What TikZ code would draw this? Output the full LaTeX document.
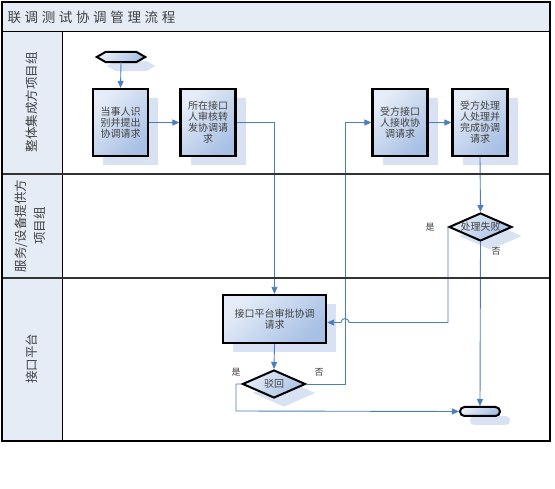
\documentclass[tikz,border=0pt]{standalone}
\usepackage{fontspec}
\setmainfont{Noto Sans CJK SC}
\newfontfamily\titlefont[LetterSpace=27]{Noto Sans CJK SC}
\usetikzlibrary{shapes.geometric,arrows.meta,shadows}
\definecolor{lanefill}{RGB}{229,236,246}
\definecolor{shadowc}{RGB}{216,226,242}
\definecolor{boxlight}{RGB}{230,237,248}
\definecolor{boxdark}{RGB}{168,192,228}
\definecolor{conn}{RGB}{74,126,193}
\definecolor{txt}{RGB}{64,64,64}
\tikzset{
  myshadow/.style={general shadow={fill=shadowc, shadow xshift=10pt, shadow yshift=-9pt}},
  gradfill/.style={top color=boxlight, bottom color=boxdark, shading angle=45},
  procbox/.style={draw=black, line width=2.3pt, gradfill, myshadow,
    minimum width=55pt, minimum height=67pt, inner sep=0pt, align=center,
    font=\fontsize{10}{11}\selectfont, text=txt},
  decision/.style={diamond, draw=black, line width=2pt, gradfill, myshadow,
    minimum width=63pt, minimum height=28pt, inner sep=0pt},
  dectext/.style={font=\fontsize{10}{10}\selectfont, text=txt},
  terminal/.style={draw=black, line width=2pt, gradfill, myshadow, rounded corners=4.5pt,
    minimum width=40pt, minimum height=9pt, inner sep=0pt},
  conn/.style={draw=conn, line width=0.9pt},
  arr/.style={conn, -{Triangle[length=7pt,width=6pt]}},
  lanetext/.style={rotate=90, align=center, text=txt, font=\fontsize{12.5}{19}\selectfont},
  yesno/.style={font=\fontsize{9}{9}\selectfont, text=txt},
  sep/.style={draw=black!80, line width=2pt}
}
\begin{document}
\begin{tikzpicture}[x=1pt,y=-1pt]
\useasboundingbox (0,0) rectangle (555,489);
% lanes background
\fill[white] (2,2) rectangle (550,441);
\fill[lanefill] (2,2) rectangle (550,32);
\fill[lanefill] (2,32) rectangle (62,441);
\node[anchor=west, font=\titlefont\fontsize{13.5}{14}\selectfont, text=txt] (title) at (4,17) {联调测试协调管理流程};
\node[lanetext] (lane1) at (31.5,102.5) {整体集成方项目组};
\node[lanetext] (lane2) at (30.5,226) {服务/设备提供方\\项目组};
\node[lanetext] (lane3) at (31.5,359) {接口平台};
% start hexagon
\node[minimum width=48pt, minimum height=10pt, inner sep=0pt] (start) at (121,57) {};
\fill[shadowc] ([shift={(10,9)}]start.west) -- ([shift={(19,9)}]start.north west) -- ([shift={(1,9)}]start.north east) -- ([shift={(10,9)}]start.east) -- ([shift={(1,9)}]start.south east) -- ([shift={(19,9)}]start.south west) -- cycle;
\draw[line width=2pt, gradfill] (start.west) -- ([xshift=9pt]start.north west) -- ([xshift=-9pt]start.north east) -- (start.east) -- ([xshift=-9pt]start.south east) -- ([xshift=9pt]start.south west) -- cycle;
% process boxes
\node[procbox] (b1) at (120.5,122.5) {当事人识\\别并提出\\协调请求};
\node[procbox] (b2) at (208,122.5) {所在接口\\人审核转\\发协调请\\求};
\node[procbox] (b3) at (400,122.5) {受方接口\\人接收协\\调请求};
\node[procbox] (b4) at (480,122.5) {受方处理\\人处理并\\完成协调\\请求};
\node[procbox, minimum width=103pt, minimum height=48pt] (b5) at (274.5,319) {接口平台审批协调\\请求};
% decisions
\node[decision, label={[dectext]center:处理失败}] (fail) at (480.5,227) {};
\node[decision, label={[dectext]center:驳回}] (rej) at (274,384) {};
% end
\node[terminal] (endn) at (480,411.5) {};
% yes / no labels
\node[yesno] (yes1) at (430,227) {是};
\node[yesno] (no1) at (496,251) {否};
\node[yesno] (yes2) at (236,372) {是};
\node[yesno] (no2) at (319,372) {否};
% helper coordinates
\coordinate (jtop) at (345,122.5);
\coordinate (hopR) at (349,322.5);
\coordinate (hopL) at (341,322.5);
\coordinate (j2) at (236,411);
% connectors
\draw[arr] (start.south) -- (b1.north);
\draw[arr] (b1.east) -- (b2.west);
\draw[arr] (b2.east) -| (b5.north);
\draw[arr] (b3.east) -- (b4.west);
\draw[arr] (b4.south) -- (fail.north);
\draw[arr] (rej.east) -| (jtop) -- (b3.west);
\draw[arr] (fail.west) |- (hopR) arc[start angle=0, end angle=-180, radius=4] -- (b5.east |- hopL);
\draw[arr] (fail.south) -- (endn.north);
\draw[arr] (b5.south) -- (rej.north);
\draw[arr] (rej.west) -| (j2) -- (endn.west);
% frame and lane lines
\draw[line width=1pt] (2,32) -- (550,32);
\draw[line width=1pt] (62,32) -- (62,441);
\draw[sep] (2,174.5) -- (550,174.5);
\draw[sep] (2,278) -- (550,278);
\draw[line width=1.3pt] (2,2) rectangle (550,441);
\end{tikzpicture}
\end{document}
